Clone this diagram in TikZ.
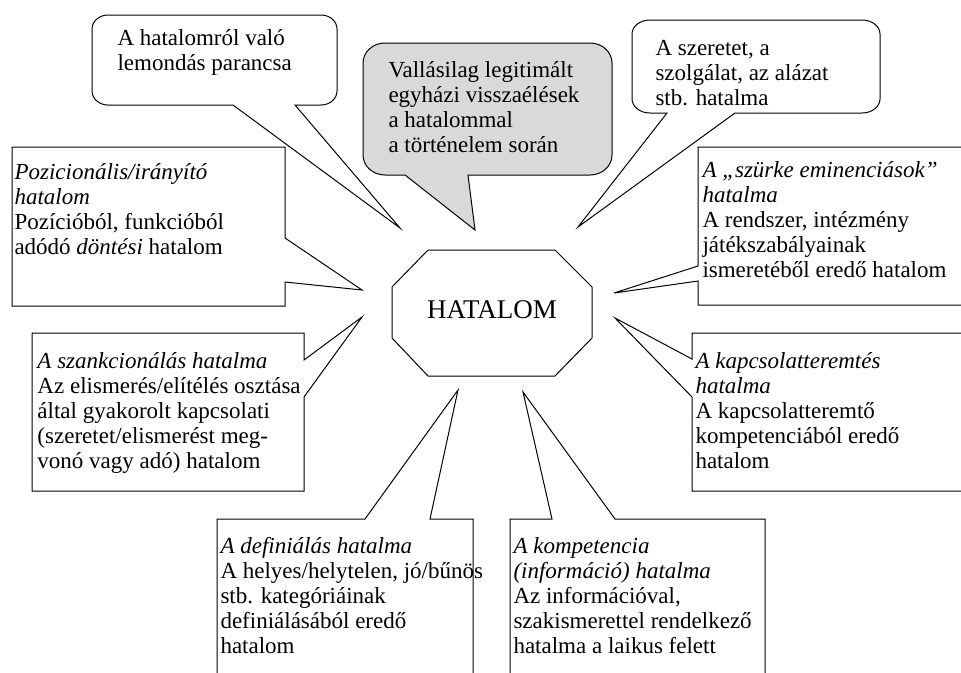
\documentclass[tikz,border=0pt]{standalone}
\usepackage{fontspec}
\setmainfont{Liberation Serif}
\definecolor{calloutgray}{RGB}{217,217,217}
\newcommand\bodyfont{\fontsize{17.25}{18.75}\selectfont}
\newcommand\boxtext[1]{\parbox[t]{300pt}{\raggedright #1}}
\newcommand\calloutpath[9]{%
 (#7,#4) -- ({#1+#5},#4) .. controls ({#1+0.448*#5},#4) and (#1,{#4-0.448*#6}) .. (#1,{#4-#6})
 -- (#1,{#2+#6}) .. controls (#1,{#2+0.448*#6}) and ({#1+0.448*#5},#2) .. ({#1+#5},#2)
 -- ({#3-#5},#2) .. controls ({#3-0.448*#5},#2) and (#3,{#2+0.448*#6}) .. (#3,{#2+#6})
 -- (#3,{#4-#6}) .. controls (#3,{#4-0.448*#6}) and ({#3-0.448*#5},#4) .. ({#3-#5},#4)
 -- (#8,#4) -- (#9) -- cycle}
\begin{document}
\begin{tikzpicture}[x=0.75pt,y=-0.75pt,line width=0.75pt,line join=miter,
  txt/.style={anchor=base west,inner sep=0pt,font=\bodyfont},
  whitebox/.style={draw=black,fill=white},
  graybox/.style={draw=black,fill=calloutgray}]
\useasboundingbox (0,0) rectangle (961,672);
\clip (0,0) rectangle (961,672);
\fill[white] (0,0) rectangle (961,672);

% tips of the wedges
\coordinate (tipTL) at (400,228);
\coordinate (tipG)  at (475,230);
\coordinate (tipTR) at (578,227);
\coordinate (tipP)  at (362,290);
\coordinate (tipSz) at (614,293);
\coordinate (tipSa) at (362,317);
\coordinate (tipK)  at (615,318);
\coordinate (tipD)  at (458,390);
\coordinate (tipKo) at (523,392);

% rounded callouts
\draw[whitebox] \calloutpath{92}{15}{337}{105}{16}{14}{233}{295}{tipTL};
\draw[graybox]  \calloutpath{363}{43}{612}{175}{22}{20}{405}{468}{tipG};
\draw[whitebox] \calloutpath{632}{20}{880}{113}{18}{14}{667}{735}{tipTR};

% rectangular callouts
\draw[whitebox] (12,147) -- (285,147) -- (285,238) -- (tipP) -- (285,282) -- (285,306) -- (12,306) -- cycle;
\draw[whitebox] (698,147) -- (975,147) -- (975,305) -- (698,305) -- (698,281) -- (tipSz) -- (698,266) -- cycle;
\draw[whitebox] (32,333) -- (304,333) -- (304,360) -- (tipSa) -- (304,397) -- (304,491) -- (32,491) -- cycle;
\draw[whitebox] (692,333) -- (975,333) -- (975,491) -- (692,491) -- (692,397) -- (tipK) -- (692,359) -- cycle;
\draw[whitebox] (217,519) -- (365,519) -- (tipD) -- (430,519) -- (473,519) -- (473,690) -- (217,690) -- cycle;
\draw[whitebox] (510,519) -- (552,519) -- (tipKo) -- (615,519) -- (765,519) -- (765,690) -- (510,690) -- cycle;

% central octagon
\draw[whitebox] (428,250) -- (555,250) -- (592,287) -- (592,338) -- (555,376) -- (428,376) -- (392,338) -- (392,287) -- cycle;
\node[anchor=base,inner sep=0pt,font=\fontsize{20.25}{24}\selectfont] (hatalom) at (492,318) {HATALOM};

% texts
\node[txt] (tTL) at (117,45) {\boxtext{A hatalomról való\\lemondás parancsa}};
\node[txt] (tG) at (388,77) {\boxtext{Vallásilag legitimált\\egyházi visszaélések\\a hatalommal\\a történelem során}};
\node[txt] (tTR) at (655,55) {\boxtext{A szeretet, a\\szolgálat, az alázat\\stb. hatalma}};
\node[txt] (tP) at (14,179) {\boxtext{\textit{Pozicionális/irányító}\\\textit{hatalom}\\Pozícióból, funkcióból\\adódó \textit{döntési} hatalom}};
\node[txt] (tSz) at (702,177) {\boxtext{\textit{A „szürke eminenciások”}\\\textit{hatalma}\\A rendszer, intézmény\\játékszabályainak\\ismeretéből eredő hatalom}};
\node[txt] (tSa) at (37,368) {\boxtext{\textit{A szankcionálás hatalma}\\Az elismerés/elítélés osztása\\által gyakorolt kapcsolati\\(szeretet/elismerést meg-\\vonó vagy adó) hatalom}};
\node[txt] (tK) at (695,368) {\boxtext{\textit{A kapcsolatteremtés}\\\textit{hatalma}\\A kapcsolatteremtő\\kompetenciából eredő\\hatalom}};
\node[txt] (tD) at (220,553) {\boxtext{\textit{A definiálás hatalma}\\A helyes/helytelen, jó/bűnös\\stb. kategóriáinak\\definiálásából eredő\\hatalom}};
\node[txt] (tKo) at (513,553) {\boxtext{\textit{A kompetencia}\\\textit{(információ) hatalma}\\Az információval,\\szakismerettel rendelkező\\hatalma a laikus felett}};
\end{tikzpicture}
\end{document}
